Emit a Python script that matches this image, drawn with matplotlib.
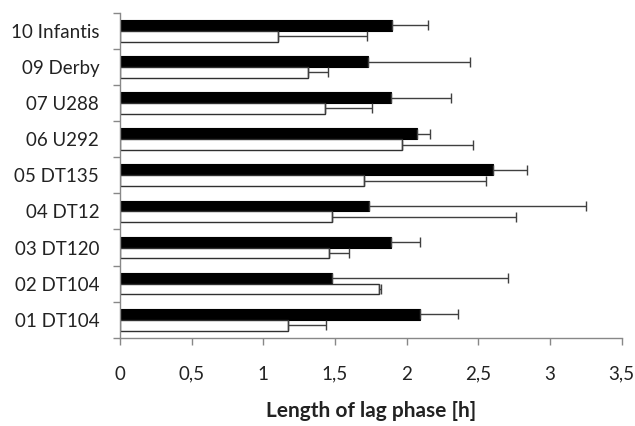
import matplotlib
matplotlib.use("Agg")
import matplotlib.pyplot as plt
import numpy as np

plt.rcParams['font.family'] = ['Lato', 'DejaVu Sans']

categories = ["01 DT104", "02 DT104", "03 DT120", "04 DT12", "05 DT135",
              "06 U292", "07 U288", "09 Derby", "10 Infantis"]
black_vals = [2.09, 1.48, 1.89, 1.74, 2.60, 2.07, 1.89, 1.73, 1.90]
black_err = [0.27, 1.23, 0.20, 1.51, 0.24, 0.09, 0.42, 0.71, 0.25]
white_vals = [1.17, 1.81, 1.46, 1.48, 1.70, 1.97, 1.43, 1.31, 1.10]
white_err = [0.27, 0.01, 0.14, 1.28, 0.85, 0.49, 0.33, 0.14, 0.62]
x_ticks = [0, 0.5, 1, 1.5, 2, 2.5, 3, 3.5]
x_tick_labels = ["0", "0,5", "1", "1,5", "2", "2,5", "3", "3,5"]

fig = plt.figure(figsize=(6.35, 4.26), dpi=100)
ax = fig.add_axes([0.189, 0.207, 0.790, 0.763])

y = np.arange(len(categories))
h = 0.3
ecol = '#404040'
ax.barh(y + h / 2, black_vals, height=h, color='black', edgecolor='black', lw=0.8,
        xerr=[np.zeros(len(y)), black_err],
        error_kw=dict(ecolor=ecol, elinewidth=1.0, capsize=3.5, capthick=1.0))
ax.barh(y - h / 2, white_vals, height=h, color='white', edgecolor='#303030', lw=1.0,
        xerr=[np.zeros(len(y)), white_err],
        error_kw=dict(ecolor=ecol, elinewidth=1.0, capsize=3.5, capthick=1.0))

ax.set_xlim(0, 3.5)
ax.set_ylim(-0.5, len(categories) - 0.5)
ax.set_xticks(x_ticks)
ax.set_xticklabels(x_tick_labels, fontsize=13.5, color='#222222')
ax.set_yticks(y)
ax.set_yticklabels(categories, fontsize=13.5, color='#222222')
ax.set_yticks(np.arange(-0.5, len(categories), 1.0), minor=True)
ax.tick_params(axis='y', which='major', length=0, pad=15)
ax.tick_params(axis='y', which='minor', length=5, color='#888888', width=1)
ax.tick_params(axis='x', which='major', length=5, color='#888888', width=1, pad=15)

for s in ['top', 'right']:
    ax.spines[s].set_visible(False)
for s in ['left', 'bottom']:
    ax.spines[s].set_color('#888888')
    ax.spines[s].set_linewidth(1)

ax.set_xlabel("Length of lag phase [h]", fontsize=15, fontweight='bold',
              color='#222222', labelpad=13)

fig.savefig("out.png", dpi=100)
